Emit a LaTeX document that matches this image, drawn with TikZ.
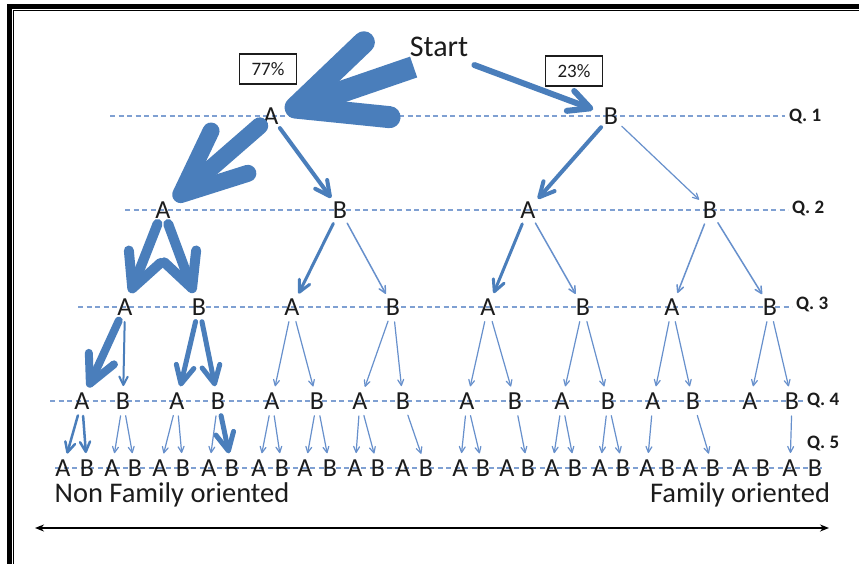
\documentclass[tikz,border=0pt]{standalone}
\usepackage{fontspec}
\setmainfont{Carlito}
\usetikzlibrary{arrows.meta}
\definecolor{ablue}{HTML}{4A7EBB}
\definecolor{tblue}{HTML}{6790CC}
\definecolor{dblue}{HTML}{7FA0D2}
\definecolor{ink}{HTML}{1C1C1C}
\begin{document}
\begin{tikzpicture}[x=1pt,y=-1pt,
  lt/.style={circle,inner sep=0pt,outer sep=0pt,minimum size=30pt,font=\fontsize{26}{26}\selectfont,text=ink},
  ar/.style={draw=ablue,line width=#1,line cap=round,line join=round,-{Straight Barb[round,length=2pt 3.2,width=2pt 3.2]}},
  ar/.default=1.3pt,
  thin/.style={ar=1.2pt,draw=tblue},
  dl/.style={draw=dblue,line width=1.2pt,dash pattern=on 5pt off 3.5pt},
  ql/.style={anchor=west,inner sep=1pt,font=\fontsize{19}{19}\selectfont\bfseries,text=ink},
  pct/.style={draw=ink,line width=1.2pt,minimum width=57pt,minimum height=30pt,inner sep=0pt,font=\fontsize{19}{19}\selectfont,text=ink},
  lbl/.style={font=\fontsize{28.5}{28.5}\selectfont,text=ink,inner sep=0pt},
]
\useasboundingbox (0,0) rectangle (859,564);
\fill[white] (0,0) rectangle (859,564);
% frame
\fill[black] (7,4) rectangle (12,564);
\fill[black] (7,4) rectangle (859,9);
\draw[black,line width=1.2pt] (13.6,564) -- (13.6,10.6) -- (859,10.6);

% Q labels
\node[ql] (q1) at (788,116) {Q. 1};
\node[ql] (q2) at (791,208) {Q. 2};
\node[ql] (q3) at (795,304) {Q. 3};
\node[ql] (q4) at (806,400) {Q. 4};
\node[ql] (q5) at (806,443) {Q. 5};

% dashed guide lines
\draw[dl] (110,116) -- ([xshift=-3pt]q1.west |- 0,116);
\draw[dl] (125,210) -- ([xshift=-3pt]q2.west |- 0,210);
\draw[dl] (78,307) -- ([xshift=-3pt]q3.west |- 0,307);
\draw[dl] (50,401) -- ([xshift=-3pt]q4.west |- 0,401);
\draw[dl] (55,468) -- (822,468);

% start and percentages
\node[lbl,font=\fontsize{30}{30}\selectfont,inner sep=2pt] (start) at (439,47) {Start};
\node[pct] (p77) at (268,69) {77\%};
\node[pct] (p23) at (574,71) {23\%};

% tree nodes
\node[lt] (l1-1) at (271,116) {A};
\node[lt] (l1-2) at (611,116) {B};
\foreach \x [count=\i] in {163,340,528,710}
  \node[lt] (l2-\i) at (\x,210) {\ifodd\i\relax A\else B\fi};
\foreach \x [count=\i] in {125,199,292,393,488,583,672,770}
  \node[lt] (l3-\i) at (\x,307) {\ifodd\i\relax A\else B\fi};
\foreach \x [count=\i] in {82,123,177,218,272,317,360,403,467,515,562,608,653,693,750,792}
  \node[lt] (l4-\i) at (\x,401) {\ifodd\i\relax A\else B\fi};
\foreach \x [count=\i] in {63,87,112,135,160,183,209,232,259,282,305,330,355,378,403,426,460,483,507,528,552,575,600,623,647,668,690,713,740,763,790,815}
  \node[lt] (l5-\i) at (\x,468) {\ifodd\i\relax A\else B\fi};

% level 0 -> 1
\draw[ar=22pt,line cap=butt,-{Straight Barb[round,length=0pt 3.9,width=0pt 3.6]}]
  ([xshift=6pt,yshift=-8pt]start.south west) -- (l1-1);
\draw[ar=6pt,shorten >=4pt] ([xshift=4pt,yshift=-6pt]start.south east) -- (l1-2);

% level 1 -> 2
\draw[ar=17pt,-{Straight Barb[round,length=0pt 3.8,width=0pt 3.3]}] (l1-1) -- (l2-1);
\draw[ar=4pt] (l1-1) -- (l2-2);
\draw[ar=4pt] (l1-2) -- (l2-3);
\draw[thin] (l1-2) -- (l2-4);

% level 2 -> 3
\draw[ar=10pt] (l2-1) -- (l3-1);
\draw[ar=10pt] (l2-1) -- (l3-2);
\draw[ar=3pt] (l2-2) -- (l3-3);
\draw[thin,line width=1.5pt] (l2-2) -- (l3-4);
\draw[ar=3pt] (l2-3) -- (l3-5);
\draw[thin,line width=1.5pt] (l2-3) -- (l3-6);
\draw[thin,line width=1.5pt] (l2-4) -- (l3-7);
\draw[thin,line width=1.5pt] (l2-4) -- (l3-8);

% level 3 -> 4
\draw[ar=8pt] (l3-1) -- (l4-1);
\draw[ar=2pt] (l3-1) -- (l4-2);
\draw[ar=5pt] (l3-2) -- (l4-3);
\draw[ar=5pt] (l3-2) -- (l4-4);
\foreach \p/\a/\b in {3/5/6,4/7/8,5/9/10,6/11/12,7/13/14,8/15/16}{
  \draw[thin] (l3-\p) -- (l4-\a);
  \draw[thin] (l3-\p) -- (l4-\b);
}

% level 4 -> 5
\draw[ar=2.5pt] (l4-1) -- (l5-1);
\draw[ar=2.5pt] (l4-1) -- (l5-2);
\draw[ar=5pt] (l4-4) -- (l5-8);
\foreach \p/\q in {2/3,2/4,3/5,3/6,4/7,5/9,5/10,6/11,6/12,7/13,7/14,8/16,9/17,9/18,10/20,11/21,11/22,12/23,12/24,13/25,14/28,16/31}
  \draw[thin] (l4-\p) -- (l5-\q);

% bottom labels and scale
\node[lbl] (nfo) at (172,495) {Non Family oriented};
\node[lbl] (fo) at (740,495) {Family oriented};
\coordinate (axl) at (35,528);
\coordinate (axr) at (829,528);
\draw[line width=2pt,{Stealth[length=9pt,width=7pt]}-{Stealth[length=9pt,width=7pt]}] (axl) -- (axr);
\end{tikzpicture}
\end{document}
